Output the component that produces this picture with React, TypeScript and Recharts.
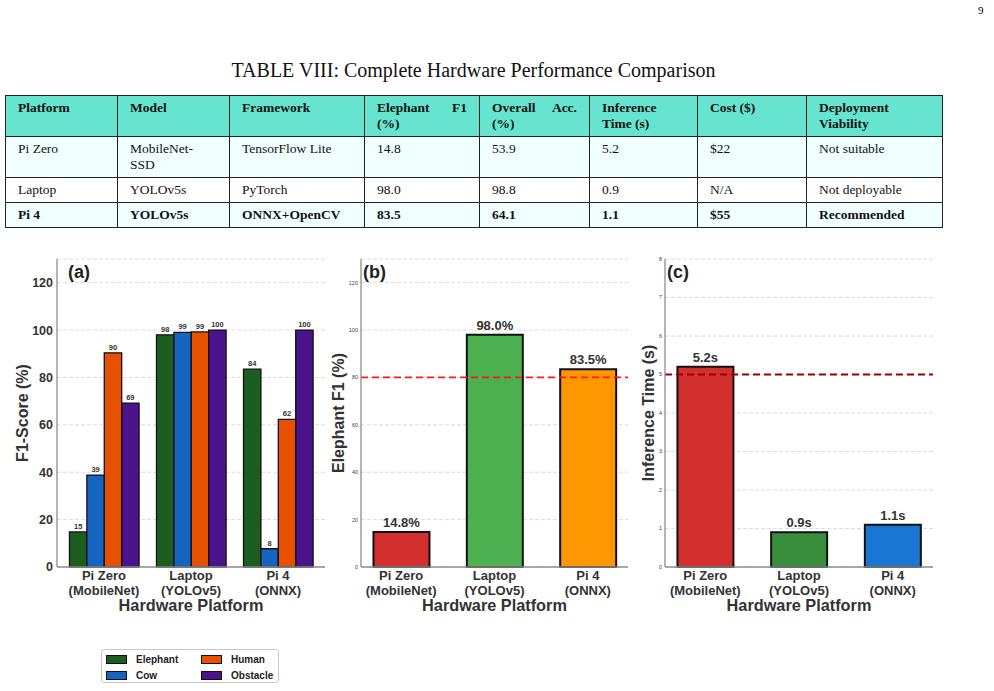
import React from 'react';
import { BarChart, Bar, XAxis, YAxis, CartesianGrid, ReferenceLine, LabelList, Cell } from 'recharts';

// table data
const tableHeaders = ['Platform', 'Model', 'Framework', 'Elephant F1 (%)', 'Overall Acc. (%)', 'Inference Time (s)', 'Cost ($)', 'Deployment Viability'];
const tablePlatform = ['Pi Zero', 'Laptop', 'Pi 4'];
const tableModel = ['MobileNet-SSD', 'YOLOv5s', 'YOLOv5s'];
const tableFramework = ['TensorFlow Lite', 'PyTorch', 'ONNX+OpenCV'];
const tableElephant = ['14.8', '98.0', '83.5'];
const tableOverall = ['53.9', '98.8', '64.1'];
const tableTime = ['5.2', '0.9', '1.1'];
const tableCost = ['$22', 'N/A', '$55'];
const tableViability = ['Not suitable', 'Not deployable', 'Recommended'];
const colWidths = [112, 112, 135, 115, 110, 108, 109, 136];
const rowColors = ['#f0ffff', '#ffffff', '#f0ffff'];
const boldRow = [false, false, true];

// chart data
const platforms = ['Pi Zero', 'Laptop', 'Pi 4'];
const platformModels = ['(MobileNet)', '(YOLOv5)', '(ONNX)'];
const platformIndex = [0, 1, 2];

const classNames = ['Elephant', 'Cow', 'Human', 'Obstacle'];
const classColors = ['#1b5e20', '#1565c0', '#e65100', '#4a148c'];
const elephantF1 = [14.8, 98.0, 83.5];
const cowF1 = [38.8, 99.0, 7.7];
const humanF1 = [90.4, 99.2, 62.3];
const obstacleF1 = [69.2, 100, 100];

const elephantColors = ['#d32f2f', '#4caf50', '#ff9800'];
const elephantTarget = 80;

const inferenceTime = [5.2, 0.9, 1.1];
const timeColors = ['#d32f2f', '#388e3c', '#1976d2'];
const timeLimit = 5;

const f1Ticks = [0, 20, 40, 60, 80, 100, 120];
const timeTicks = [0, 1, 2, 3, 4, 5, 6, 7, 8];

const SANS = '"Liberation Sans", Arial, sans-serif';
const SERIF = '"Liberation Serif", "Times New Roman", serif';
const AXIS = { stroke: '#8c8c8c', strokeWidth: 1.3 };
const TEXT = '#333';

const groupedData = platformIndex.map((i) => ({
  idx: i,
  Elephant: elephantF1[i],
  Cow: cowF1[i],
  Human: humanF1[i],
  Obstacle: obstacleF1[i],
}));
const elephantData = platformIndex.map((i) => ({ idx: i, value: elephantF1[i] }));
const timeData = platformIndex.map((i) => ({ idx: i, value: inferenceTime[i] }));

const PlatformTick = (props: any) => {
  const { x, y, payload } = props;
  const i = Math.round(payload.value);
  return (
    <text x={x} y={y} textAnchor="middle" fontFamily={SANS} fontWeight="bold" fontSize={13} fill={TEXT}>
      <tspan x={x} dy={13}>{platforms[i]}</tspan>
      <tspan x={x} dy={14.5}>{platformModels[i]}</tspan>
    </text>
  );
};

const xLabel = {
  value: 'Hardware Platform',
  position: 'insideBottom' as const,
  offset: 9,
  fill: TEXT,
  style: { fontSize: 16.3, fontWeight: 'bold', fontFamily: SANS, fill: TEXT },
};

const yLabel = (value: string, offset: number) => ({
  value,
  angle: -90,
  position: 'insideLeft' as const,
  offset,
  fill: TEXT,
  style: { fontSize: 16, fontWeight: 'bold', fontFamily: SANS, fill: TEXT, textAnchor: 'middle' },
});

const smallTick = { fontSize: 5.5, fill: '#444', fontFamily: SANS };

// panel letter, in the chart's own svg coordinates
const Panel = ({ t, x }: { t: string; x: number }) => (
  <text x={x} y={28} fontFamily={SANS} fontWeight="bold" fontSize={18} fill="#222">{t}</text>
);

const cellStyle = (bold: boolean, bg: string): React.CSSProperties => ({
  border: '1px solid #222',
  padding: '4px 12px',
  lineHeight: '16px',
  verticalAlign: 'top',
  textAlign: 'justify',
  fontWeight: bold ? 'bold' : 'normal',
  background: bg,
});

export default function App() {
  const rows = platformIndex.map((i) => [
    tablePlatform[i], tableModel[i], tableFramework[i], tableElephant[i],
    tableOverall[i], tableTime[i], tableCost[i], tableViability[i],
  ]);

  return (
    <div style={{ position: 'absolute', left: 0, top: 0, width: 994, height: 691, background: '#fff', overflow: 'hidden' }}>
      <div style={{ position: 'absolute', left: 978, top: 5, fontFamily: SERIF, fontSize: 11, lineHeight: '11px' }}>9</div>

      <div style={{ position: 'absolute', left: 5, top: 60, width: 937, textAlign: 'center', fontFamily: SERIF, fontSize: 20, lineHeight: '20px', color: '#111' }}>
        TABLE VIII: Complete Hardware Performance Comparison
      </div>

      <table style={{ position: 'absolute', left: 5, top: 95, width: 937, tableLayout: 'fixed', borderCollapse: 'collapse', fontFamily: SERIF, fontSize: 13.5, color: '#111', border: '1.5px solid #777' }}>
        <colgroup>
          {colWidths.map((w, k) => <col key={k} style={{ width: w }} />)}
        </colgroup>
        <thead>
          <tr>
            {tableHeaders.map((h) => <th key={h} style={cellStyle(true, '#66e4cf')}>{h}</th>)}
          </tr>
        </thead>
        <tbody>
          {rows.map((r, i) => (
            <tr key={i}>
              {r.map((c, k) => <td key={k} style={cellStyle(boldRow[i], rowColors[i])}>{c}</td>)}
            </tr>
          ))}
        </tbody>
      </table>

      {/* (a) per-class F1 */}
      <div style={{ position: 'absolute', left: 0, top: 250 }}>
        <BarChart width={330} height={370} data={groupedData} margin={{ top: 9, right: 5, bottom: 0, left: 0 }} barGap={0}>
          <CartesianGrid vertical={false} stroke="#dcdcdc" strokeDasharray="4 2" />
          <XAxis type="number" dataKey="idx" domain={[-0.54, 2.54]} ticks={platformIndex} interval={0}
            tick={<PlatformTick />} tickSize={0} tickMargin={0} height={53} axisLine={AXIS} tickLine={false} label={xLabel} />
          <YAxis domain={[0, 130]} ticks={f1Ticks} width={57} tickSize={0} tickMargin={4} axisLine={AXIS} tickLine={false}
            tick={{ fontSize: 12.5, fontWeight: 'bold', fill: TEXT, fontFamily: SANS }} label={yLabel('F1-Score (%)', 22)} />
          {classNames.map((c, k) => (
            <Bar key={c} dataKey={c} fill={classColors[k]} barSize={17.4} stroke="#111" strokeWidth={1.3} isAnimationActive={false}>
              <LabelList dataKey={c} position="top" offset={3} fill={TEXT}
                formatter={(v: any) => Number(v).toFixed(0)}
                style={{ fontSize: 7.5, fontWeight: 'bold', fontFamily: SANS, fill: TEXT }} />
            </Bar>
          ))}
          <Panel t="(a)" x={68} />
        </BarChart>
      </div>

      {/* (b) elephant F1 */}
      <div style={{ position: 'absolute', left: 330, top: 250 }}>
        <BarChart width={300} height={370} data={elephantData} margin={{ top: 9, right: 2, bottom: 0, left: 0 }}>
          <CartesianGrid vertical={false} stroke="#dcdcdc" strokeDasharray="4 2" />
          <XAxis type="number" dataKey="idx" domain={[-0.43, 2.43]} ticks={platformIndex} interval={0}
            tick={<PlatformTick />} tickSize={0} tickMargin={0} height={53} axisLine={AXIS} tickLine={false} label={xLabel} />
          <YAxis domain={[0, 130]} ticks={f1Ticks} width={31} tickSize={0} tickMargin={3} axisLine={AXIS} tickLine={false}
            tick={smallTick} label={yLabel('Elephant F1 (%)', 8.5)} />
          <ReferenceLine y={elephantTarget} stroke="#ff1a1a" strokeDasharray="7 4" strokeWidth={1.8} />
          <Bar dataKey="value" barSize={56} stroke="#111" strokeWidth={2} isAnimationActive={false}>
            {elephantData.map((d, k) => <Cell key={k} fill={elephantColors[k]} />)}
            <LabelList dataKey="value" position="top" offset={5} fill={TEXT}
              formatter={(v: any) => `${Number(v).toFixed(1)}%`}
              style={{ fontSize: 13, fontWeight: 'bold', fontFamily: SANS, fill: TEXT }} />
          </Bar>
          <Panel t="(b)" x={33} />
        </BarChart>
      </div>

      {/* (c) inference time */}
      <div style={{ position: 'absolute', left: 640, top: 250 }}>
        <BarChart width={300} height={370} data={timeData} margin={{ top: 9, right: 7, bottom: 0, left: 0 }}>
          <CartesianGrid vertical={false} stroke="#dcdcdc" strokeDasharray="4 2" />
          <XAxis type="number" dataKey="idx" domain={[-0.43, 2.43]} ticks={platformIndex} interval={0}
            tick={<PlatformTick />} tickSize={0} tickMargin={0} height={53} axisLine={AXIS} tickLine={false} label={xLabel} />
          <YAxis domain={[0, 8]} ticks={timeTicks} width={25} tickSize={0} tickMargin={3} axisLine={AXIS} tickLine={false}
            tick={smallTick} label={yLabel('Inference Time (s)', 8)} />
          <ReferenceLine y={timeLimit} stroke="#9b0000" strokeDasharray="7 4" strokeWidth={1.8} />
          <Bar dataKey="value" barSize={56} stroke="#111" strokeWidth={2} isAnimationActive={false}>
            {timeData.map((d, k) => <Cell key={k} fill={timeColors[k]} />)}
            <LabelList dataKey="value" position="top" offset={5} fill={TEXT}
              formatter={(v: any) => `${Number(v).toFixed(1)}s`}
              style={{ fontSize: 13, fontWeight: 'bold', fontFamily: SANS, fill: TEXT }} />
          </Bar>
          <Panel t="(c)" x={27} />
        </BarChart>
      </div>

      {/* legend for (a) */}
      <div style={{
        position: 'absolute', left: 101, top: 649, width: 178, height: 34, boxSizing: 'border-box',
        border: '1px solid #c8c8c8', borderRadius: 3, padding: '1px 0 0 4px',
        display: 'grid', gridTemplateRows: '16px 16px', gridTemplateColumns: '95px 95px', gridAutoFlow: 'column',
        fontFamily: SANS, fontWeight: 'bold', fontSize: 10, color: '#222',
      }}>
        {classNames.map((c, k) => (
          <div key={c} style={{ display: 'flex', alignItems: 'center' }}>
            <span style={{ width: 21, height: 9, boxSizing: 'border-box', border: '1px solid #111', background: classColors[k], marginRight: 9 }} />
            {c}
          </div>
        ))}
      </div>
    </div>
  );
}
